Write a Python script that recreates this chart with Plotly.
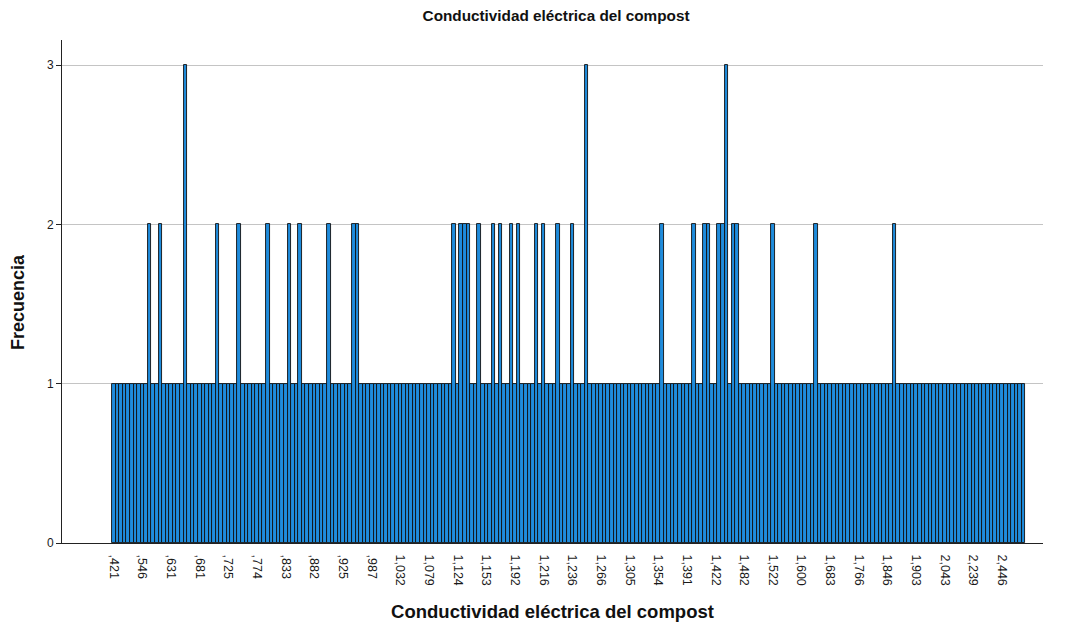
import plotly.graph_objects as go

# Frequency of each distinct conductivity value, in ascending order of value
n_values = 255
peaks_two = [10, 13, 29, 35, 43, 49, 52, 60, 67, 68, 95, 97, 98, 99, 102, 106,
             108, 111, 113, 118, 120, 124, 128, 153, 162, 165, 166, 169, 170,
             173, 174, 184, 196, 218]
peaks_three = [20, 132, 171]
frecuencia = [1] * n_values
for i in peaks_two:
    frecuencia[i] = 2
for i in peaks_three:
    frecuencia[i] = 3

# Labels shown on the category axis (every eighth value)
tick_labels = [",421", ",546", ",631", ",681", ",725", ",774", ",833", ",882",
               ",925", ",987", "1,032", "1,079", "1,124", "1,153", "1,192",
               "1,216", "1,236", "1,266", "1,305", "1,354", "1,391", "1,422",
               "1,482", "1,522", "1,600", "1,683", "1,766", "1,846", "1,903",
               "2,043", "2,239", "2,446"]
tick_step = 8

x = list(range(n_values))
tick_pos = [i * tick_step for i in range(len(tick_labels))]

fig = go.Figure(go.Bar(
    x=x, y=frecuencia,
    marker=dict(color="#1f8cdc", line=dict(color="#111111", width=0.9)),
    width=1.0,
))

font_family = "Liberation Sans, Arial, sans-serif"
fig.update_layout(
    width=1072, height=627,
    margin=dict(l=62, r=29, t=40, b=84),
    paper_bgcolor="white", plot_bgcolor="white",
    bargap=0,
    showlegend=False,
    font=dict(family=font_family, color="#222222"),
    title=dict(text="<b>Conductividad eléctrica del compost</b>",
               x=0.5187, xanchor="center", y=0.975, yanchor="middle",
               font=dict(size=15.3, family=font_family, color="#111111")),
    annotations=[dict(
        text="<b>Frecuencia</b>", textangle=-90,
        xref="paper", yref="paper", x=-0.0449, y=0.479,
        xanchor="center", yanchor="middle", showarrow=False,
        font=dict(size=18, color="#111111", family=font_family),
    )],
)
fig.update_xaxes(
    range=[-14.46, 259.4], automargin=False,
    tickmode="array", tickvals=tick_pos, ticktext=tick_labels,
    tickangle=90, tickfont=dict(size=12.5, color="#1a1a1a"),
    ticks="outside", ticklen=8, tickcolor="rgba(0,0,0,0)",
    showline=True, linecolor="#222222", linewidth=1,
    showgrid=False, zeroline=False,
    title=dict(text="<b>Conductividad eléctrica del compost</b>",
               font=dict(size=18.5, color="#111111"), standoff=20),
)
fig.update_yaxes(
    range=[0, 3.157], automargin=False,
    tickmode="array", tickvals=[0, 1, 2, 3], ticktext=["0", "1", "2", "3"],
    tickfont=dict(size=12, color="#1a1a1a"),
    showline=True, linecolor="#222222", linewidth=1,
    showgrid=True, gridcolor="#c4c4c4", gridwidth=1,
    zeroline=False, ticks="outside", ticklen=5, tickcolor="#222222",
)

fig.write_html("out.html")
